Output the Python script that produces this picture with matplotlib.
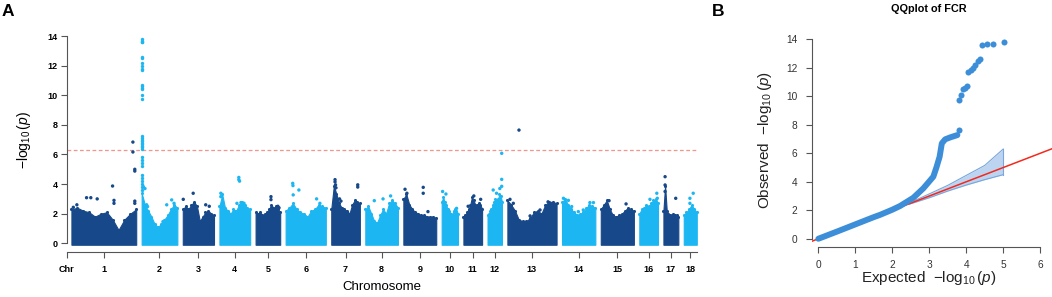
import numpy as np
import matplotlib
matplotlib.use('Agg')
import matplotlib.pyplot as plt

plt.rcParams['font.family'] = ['Liberation Sans', 'DejaVu Sans']
plt.rcParams['mathtext.fontset'] = 'custom'
plt.rcParams['mathtext.rm'] = 'Liberation Sans'
plt.rcParams['mathtext.it'] = 'Liberation Sans:italic'
plt.rcParams['mathtext.bf'] = 'Liberation Sans:bold'

# ---------------- data: Manhattan plot ----------------
chrom_names = [str(i) for i in range(1, 19)]
chrom_len_mb = [274, 151, 132, 130, 104, 170, 121, 138, 139, 69, 79, 61, 208, 141, 140, 79, 63, 55]
chrom_gap_mb = 23

# upper edge of the dense cloud of SNPs, evenly spaced along each chromosome
env_chr1 = [2.3, 2.4, 2.2, 2.1, 1.8, 2.0, 2.1, 1.6, 0.9, 1.6, 2.0, 2.3]
env_chr2 = [3.4, 2.6, 2.2, 1.8, 1.3, 1.1, 1.3, 1.6, 1.9, 2.3, 2.6, 2.4]
env_chr3 = [2.3, 2.5, 2.3, 2.6, 2.8, 2.5, 1.5, 1.8, 2.1, 2.2, 2.0, 1.9]
env_chr4 = [2.5, 3.3, 2.4, 2.2, 2.0, 2.3, 2.2, 2.6, 2.8, 2.6, 2.4, 2.3]
env_chr5 = [2.1, 2.0, 2.1, 1.9, 2.0, 2.1, 2.3, 2.6, 2.4, 2.5, 2.3, 2.1]
env_chr6 = [2.2, 2.4, 2.7, 2.3, 2.1, 2.0, 1.8, 2.2, 2.3, 2.6, 2.5, 2.4]
env_chr7 = [2.3, 3.9, 3.3, 2.7, 2.4, 2.3, 2.2, 2.0, 2.6, 2.9, 2.8, 2.7]
env_chr8 = [2.3, 2.5, 2.0, 1.5, 1.4, 1.9, 2.3, 2.0, 2.7, 2.9, 2.7, 2.4]
env_chr9 = [3.0, 3.3, 2.6, 2.3, 2.1, 2.0, 1.9, 1.9, 1.8, 1.8, 1.8, 1.7]
env_chr10 = [2.8, 3.1, 2.8, 2.6, 2.3, 2.2, 2.0, 1.9, 2.2, 2.3, 2.2, 2.0]
env_chr11 = [1.8, 1.9, 2.1, 2.3, 2.6, 3.1, 2.9, 2.6, 2.6, 2.7, 2.6, 2.3]
env_chr12 = [1.9, 2.0, 2.2, 2.3, 2.6, 2.8, 3.0, 2.9, 3.0, 3.3, 3.2, 2.8]
env_chr13 = [2.9, 2.6, 2.2, 1.6, 1.5, 1.5, 1.7, 2.1, 2.2, 2.0, 2.6, 2.8, 2.8, 2.7]
env_chr14 = [2.8, 3.0, 2.6, 2.3, 2.1, 1.9, 2.0, 2.1, 2.4, 2.6, 2.5, 2.4]
env_chr15 = [2.3, 2.6, 2.9, 2.3, 1.9, 1.8, 1.9, 2.0, 2.2, 2.4, 2.3, 2.2]
env_chr16 = [2.0, 2.3, 2.4, 2.6, 2.5, 2.7, 2.9, 3.0, 2.7]
env_chr17 = [2.2, 3.9, 2.2, 2.0, 1.9, 1.9, 2.0, 1.9, 1.9, 1.8]
env_chr18 = [1.9, 2.1, 2.3, 2.6, 2.3, 2.1]

# isolated SNPs above the cloud: chromosome, position (Mb), -log10(p)
out_chr = [1, 1, 1, 1, 1, 1, 1, 1, 1, 1, 1, 1, 1, 1,
           2, 2, 2, 2, 2, 2, 2, 2,
           3, 3, 3, 3,
           4, 4, 4, 4, 4, 4, 4, 4,
           5, 5, 5, 5,
           6, 6, 6, 6, 6, 6,
           7, 7, 7, 7, 7, 7, 7, 7,
           8, 8, 8,
           9, 9, 9, 9, 9,
           10, 10, 10,
           11, 11, 11,
           12, 12, 12, 12, 12, 12,
           13, 13, 13, 13, 13, 13,
           14, 14, 14, 14, 14, 14, 14,
           15, 15, 15,
           16, 16, 16, 16,
           17, 17, 17, 17,
           18, 18, 18]
out_pos = [260, 260, 268, 268, 268, 268, 174, 180, 180, 64, 82, 109, 8, 23,
           7, 14, 21, 25, 90, 106, 127, 137,
           2, 44, 97, 112,
           6, 6, 82, 82, 85, 74, 91, 104,
           65, 65, 94, 99,
           30, 31, 56, 32, 131, 145,
           16, 16, 18, 20, 112, 112, 41, 35,
           38, 75, 107,
           7, 15, 84, 84, 104,
           4, 18, 63,
           44, 20, 73,
           60, 60, 24, 38, 52, 60,
           49, 11, 25, 96, 138, 172,
           6, 27, 41, 69, 90, 118, 133,
           35, 107, 25,
           74, 76, 76, 45,
           7, 7, 7, 52,
           40, 26, 26]
out_val = [6.84, 6.17, 5.0, 4.88, 2.85, 2.7, 3.87, 2.9, 2.7, 3.08, 3.08, 3.0, 2.43, 2.6,
           3.83, 3.7, 2.6, 2.48, 1.46, 2.6, 2.93, 2.7,
           2.97, 3.38, 2.6, 2.5,
           3.38, 3.15, 4.45, 4.3, 4.2, 2.7, 2.75, 2.7,
           3.15, 2.95, 2.5, 2.4,
           4.05, 3.9, 3.6, 3.27, 3.0, 2.7,
           4.3, 4.15, 3.95, 3.75, 3.95, 3.8, 2.85, 3.0,
           2.88, 3.0, 3.2,
           3.65, 3.38, 3.78, 3.38, 2.14,
           3.5, 3.33, 2.36,
           3.2, 2.5, 2.97,
           6.08, 4.32, 3.6, 3.38, 3.7, 3.85,
           7.65, 2.97, 2.7, 1.85, 2.25, 2.8,
           3.04, 2.9, 2.48, 2.14, 2.25, 2.75, 2.75,
           2.88, 2.66, 2.6,
           3.38, 3.04, 2.7, 2.97,
           4.5, 3.94, 3.5, 3.04,
           3.38, 3.04, 2.7]

# the strong signal at the start of chromosome 2
peak_chr2_pos = 3
peak_chr2_vals = [13.8, 13.7, 13.6, 13.6, 12.6, 12.5, 12.2, 12.0, 11.8, 11.7,
                  10.7, 10.6, 10.5, 10.4, 10.0, 9.75, 7.25, 7.1, 7.0, 6.9,
                  6.8, 6.7, 6.6, 6.5, 6.35, 5.85, 5.6, 5.4, 5.2, 4.6,
                  4.4, 4.2, 4.0, 3.8, 3.6]

threshold = 6.3

# ---------------- data: QQ plot ----------------
qq_dense_exp = [0.0, 0.5, 1.0, 1.5, 1.67, 2.0, 2.21, 2.57, 2.84, 3.11, 3.2, 3.28, 3.31, 3.34, 3.43, 3.57, 3.76]
qq_dense_obs = [0.0, 0.5, 1.01, 1.52, 1.68, 2.04, 2.3, 2.88, 3.54, 4.36, 5.06, 5.76, 6.23, 6.7, 6.98, 7.12, 7.28]
qq_top_exp = [3.8, 3.81, 3.86, 3.92, 3.97, 4.01, 4.06, 4.12, 4.18, 4.24, 4.31, 4.36, 4.42, 4.56, 4.72, 5.01]
qq_top_obs = [7.63, 9.74, 10.09, 10.5, 10.62, 10.72, 11.73, 11.85, 11.96, 12.2, 12.5, 12.6, 13.6, 13.67, 13.67, 13.84]

ci_exp = [2.45, 3.0, 3.5, 4.0, 4.5, 5.0]
ci_upper = [2.5, 3.15, 3.75, 4.45, 5.15, 6.3]
ci_lower = [2.42, 2.88, 3.35, 3.77, 4.15, 4.5]

# ---------------- styling ----------------
W, H = 1052, 297
dark = '#17498A'
light = '#1CB7F2'
qq_col = '#3D8ED8'

fig = plt.figure(figsize=(W / 100, H / 100), dpi=100)

def fx(px):
    return px / W

def fy(py):
    return 1 - py / H

# ---------------- Manhattan ----------------
axA = fig.add_axes([fx(66.7), fy(252), fx(697) - fx(66.7), fy(31.7) - fy(252)])
starts = np.concatenate([[0], np.cumsum(np.array(chrom_len_mb[:-1]) + chrom_gap_mb)])
centers = starts + np.array(chrom_len_mb) / 2.0
envs = [env_chr1, env_chr2, env_chr3, env_chr4, env_chr5, env_chr6, env_chr7, env_chr8,
        env_chr9, env_chr10, env_chr11, env_chr12, env_chr13, env_chr14, env_chr15,
        env_chr16, env_chr17, env_chr18]

for i, (st, ln, env) in enumerate(zip(starts, chrom_len_mb, envs)):
    col = dark if i % 2 == 0 else light
    xs = st + np.linspace(0, ln, len(env))
    axA.fill_between(xs, -0.1, env, color=col, lw=0.8, edgecolor=col, zorder=2)
    axA.scatter(xs, env, s=5, color=col, lw=0, zorder=3, clip_on=False)

ox = [starts[c - 1] + p for c, p in zip(out_chr, out_pos)]
ocol = [dark if (c - 1) % 2 == 0 else light for c in out_chr]
axA.scatter(ox, out_val, s=6, c=ocol, lw=0, zorder=3, clip_on=False)
axA.scatter([starts[1] + peak_chr2_pos] * len(peak_chr2_vals), peak_chr2_vals,
            s=6, color=light, lw=0, zorder=3, clip_on=False)

axA.axhline(threshold, color='#F2958C', lw=0.9, ls=(0, (3, 2)), zorder=1)

xmin = -20
xmax = starts[-1] + chrom_len_mb[-1] + 1
axA.set_xlim(xmin, xmax)
axA.set_ylim(-0.59, 14.3)
for s in ['top', 'right']:
    axA.spines[s].set_visible(False)
axA.spines['left'].set_bounds(0, 14)
axA.spines['bottom'].set_bounds(xmin, xmax - 1)
for s in ['left', 'bottom']:
    axA.spines[s].set_color('#555555')
    axA.spines[s].set_linewidth(0.8)
axA.set_yticks(np.arange(0, 15, 2))
axA.set_yticklabels([str(v) for v in range(0, 15, 2)], fontsize=6.5, fontweight='bold')
axA.set_xticks([xmin] + list(centers))
axA.set_xticklabels(['Chr'] + chrom_names, fontsize=6.5, fontweight='bold')
axA.tick_params(axis='both', length=4.5, width=0.8, color='#555555')
axA.tick_params(axis='y', pad=2)
axA.tick_params(axis='x', pad=5)

fig.text(fx(24), fy(140), r'$-\log_{10}(p)$', rotation=90, ha='center', va='center', fontsize=10)
fig.text(fx(381.7), fy(287), 'Chromosome', ha='center', va='center', fontsize=9.5)
fig.text(fx(2), fy(11), 'A', ha='left', va='center', fontsize=12.5, fontweight='bold')

# ---------------- QQ plot ----------------
axB = fig.add_axes([fx(811.7), fy(247.3), 1 - fx(811.7), fy(35.1) - fy(247.3)])
axB.set_xlim(-0.18, 6.32)
axB.set_ylim(-0.6, 14.3)
axB.fill_between(ci_exp, ci_lower, ci_upper, color='#B5D0EF', alpha=0.9, lw=0, zorder=1)
axB.plot(ci_exp, ci_upper, color='#7AA6DB', lw=0.8, zorder=1)
axB.plot(ci_exp, ci_lower, color='#7AA6DB', lw=0.8, zorder=1)
axB.plot([ci_exp[-1], ci_exp[-1]], [ci_lower[-1], ci_upper[-1]], color='#7AA6DB', lw=0.8, zorder=1)
axB.plot([-0.4, 6.6], [-0.4, 6.6], color='#F22A1E', lw=1.1, zorder=2)
axB.plot(qq_dense_exp, qq_dense_obs, color=qq_col, lw=4.3, solid_capstyle='round',
         solid_joinstyle='round', zorder=3)
axB.scatter(qq_top_exp, qq_top_obs, s=19, color=qq_col, lw=0, zorder=3, clip_on=False)

for s in ['top', 'right']:
    axB.spines[s].set_visible(False)
axB.spines['left'].set_bounds(0, 14)
axB.spines['bottom'].set_bounds(0, 6)
for s in ['left', 'bottom']:
    axB.spines[s].set_color('#555555')
    axB.spines[s].set_linewidth(0.8)
axB.set_xticks(range(0, 7))
axB.set_yticks(range(0, 15, 2))
axB.tick_params(axis='both', length=4.5, width=0.8, color='#555555', labelsize=7.3,
                labelcolor='#333333')
axB.tick_params(axis='y', pad=6)
axB.tick_params(axis='x', pad=5)

fig.text(fx(765), fy(139.5), r'Observed  $-\log_{10}(p)$', rotation=90, ha='center', va='center',
         fontsize=11, color='#222222')
fig.text(fx(928.7), fy(278), r'Expected  $-\log_{10}(p)$', ha='center', va='center',
         fontsize=11, color='#222222')
fig.text(fx(929), fy(9.5), 'QQplot of FCR', ha='center', va='center', fontsize=7.8, fontweight='bold')
fig.text(fx(712), fy(11), 'B', ha='left', va='center', fontsize=12.5, fontweight='bold')

fig.savefig('out.png', dpi=100)
